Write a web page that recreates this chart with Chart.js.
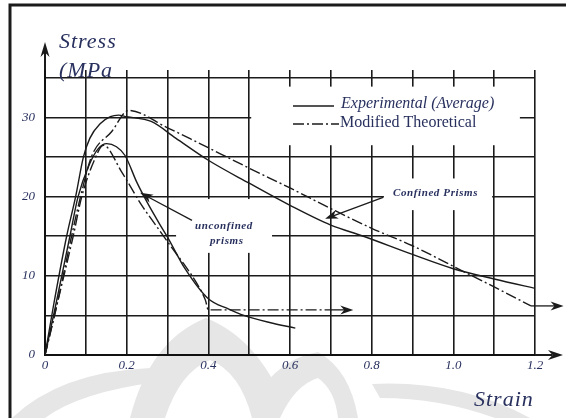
<!DOCTYPE html>
<html>
<head>
<meta charset="utf-8">
<script src="https://cdn.jsdelivr.net/npm/chart.js@4.4.0/dist/chart.umd.min.js"></script>
<style>
  body { margin: 0; background: #fff; }
  canvas { display: block; }
</style>
</head>
<body>
<canvas id="stressChart" width="566" height="418"></canvas>
<script>
  // Confined prisms - experimental (average)
  const confExpStrain = [0, 0.02, 0.053, 0.075, 0.094, 0.11, 0.135, 0.16, 0.18, 0.2, 0.26, 0.32, 0.4, 0.5, 0.6, 0.7, 0.78, 0.9, 1.0, 1.1, 1.21];
  const confExpStress = [0, 6, 15, 20, 25, 27.4, 29.2, 30.1, 30.3, 30.1, 29.5, 27.4, 24.6, 21.7, 18.9, 16.4, 15.0, 12.7, 10.9, 9.6, 8.3];
  // Confined prisms - modified theoretical
  const confThStrain = [0, 0.03, 0.065, 0.087, 0.115, 0.163, 0.205, 0.3, 0.364, 0.5, 0.6, 0.7, 0.8, 0.9, 1.0, 1.1, 1.19];
  const confThStress = [0, 6.5, 15, 20, 25.2, 28.2, 30.9, 28.7, 27.1, 23.6, 21.1, 18.5, 16.0, 13.8, 11.2, 8.6, 6.2];
  // Unconfined prisms - experimental (average)
  const unconfExpStrain = [0, 0.025, 0.061, 0.081, 0.108, 0.131, 0.151, 0.175, 0.196, 0.225, 0.25, 0.28, 0.3, 0.343, 0.4, 0.45, 0.487, 0.55, 0.613];
  const unconfExpStress = [0, 6, 15, 20, 24, 26.1, 26.7, 26.3, 25.2, 21.8, 19.3, 16.6, 14.9, 10.9, 7.1, 5.8, 5.0, 4.1, 3.4];
  // Unconfined prisms - modified theoretical
  const unconfThStrain = [0, 0.03, 0.069, 0.09, 0.12, 0.143, 0.188, 0.237, 0.274, 0.31, 0.34, 0.37, 0.393, 0.4, 0.5, 0.6, 0.7];
  const unconfThStress = [0, 6.5, 15, 20, 24.5, 26.5, 23.1, 18.9, 16.2, 13.6, 11.5, 9.2, 6.9, 5.7, 5.7, 5.7, 5.7];

  const yGridValues = [0, 5, 10, 15, 20, 25, 30, 35];
  const yTickLabels = [0, 10, 20, 30];
  const xTickLabels = [0, 0.2, 0.4, 0.6, 0.8, 1.0, 1.2];

  // annotation arrows (data units)
  const arrowFromStrain = [0.36, 0.828, 0.70, 1.19];
  const arrowFromStress = [17.0, 19.9, 5.7, 6.2];
  const arrowToStrain = [0.233, 0.686, 0.755, 1.27];
  const arrowToStress = [20.5, 17.2, 5.7, 6.2];

  const ink = '#1b1b1b';
  const textColor = '#28305e';
  const dashDot = [11, 3, 2, 3];
  const serif = 'Liberation Serif';

  const toPoints = (xs, ys) => xs.map((x, i) => ({ x: x, y: ys[i] }));

  function arrowHead(ctx, tipX, tipY, angle, len, half) {
    ctx.save();
    ctx.translate(tipX, tipY);
    ctx.rotate(angle);
    ctx.beginPath();
    ctx.moveTo(0, 0);
    ctx.lineTo(-len, half);
    ctx.lineTo(-len * 0.7, 0);
    ctx.lineTo(-len, -half);
    ctx.closePath();
    ctx.fill();
    ctx.restore();
  }

  // faint logo watermark in the lower part of the page
  function watermark(ctx) {
    ctx.save();
    ctx.fillStyle = '#e6e6e6';
    // left sweep
    ctx.beginPath();
    ctx.moveTo(12, 418);
    ctx.quadraticCurveTo(60, 372, 150, 368);
    ctx.lineTo(158, 382);
    ctx.quadraticCurveTo(80, 392, 45, 418);
    ctx.closePath();
    ctx.fill();
    // centre petal
    ctx.beginPath();
    ctx.moveTo(130, 418);
    ctx.quadraticCurveTo(150, 340, 206, 318);
    ctx.quadraticCurveTo(262, 340, 290, 418);
    ctx.closePath();
    ctx.fill();
    // right petal
    ctx.beginPath();
    ctx.moveTo(245, 418);
    ctx.quadraticCurveTo(270, 360, 318, 352);
    ctx.quadraticCurveTo(350, 370, 358, 418);
    ctx.closePath();
    ctx.fill();
    // right sweep
    ctx.beginPath();
    ctx.moveTo(372, 384);
    ctx.quadraticCurveTo(460, 380, 530, 418);
    ctx.lineTo(495, 418);
    ctx.quadraticCurveTo(440, 398, 380, 398);
    ctx.closePath();
    ctx.fill();
    // white cut-outs inside the petals
    ctx.fillStyle = '#fff';
    ctx.beginPath();
    ctx.moveTo(165, 418);
    ctx.quadraticCurveTo(180, 372, 210, 360);
    ctx.quadraticCurveTo(240, 372, 252, 418);
    ctx.closePath();
    ctx.fill();
    ctx.beginPath();
    ctx.moveTo(280, 418);
    ctx.quadraticCurveTo(295, 385, 318, 378);
    ctx.quadraticCurveTo(335, 390, 338, 418);
    ctx.closePath();
    ctx.fill();
    ctx.restore();
  }

  const decor = {
    id: 'decor',
    beforeDraw(chart) {
      watermark(chart.ctx);
    },
    beforeDatasetsDraw(chart) {
      const { ctx, scales: { x, y } } = chart;
      // white boxes behind the legend and labels (cut the grid)
      const boxes = [
        [0.505, 1.163, 33.9, 26.5],
        [0.83, 1.095, 22.3, 18.3],
        [0.321, 0.556, 19.7, 12.9]
      ];
      ctx.save();
      ctx.fillStyle = '#fff';
      boxes.forEach(b => {
        const l = x.getPixelForValue(b[0]), r = x.getPixelForValue(b[1]);
        const t = y.getPixelForValue(b[2]), bt = y.getPixelForValue(b[3]);
        ctx.fillRect(l, t, r - l, bt - t);
      });
      ctx.restore();
    },
    afterDatasetsDraw(chart) {
      const { ctx, chartArea: area, scales: { x, y } } = chart;
      ctx.save();
      ctx.strokeStyle = ink;
      ctx.fillStyle = ink;

      // annotation arrows
      ctx.lineWidth = 1.3;
      arrowFromStrain.forEach((fs, i) => {
        const x0 = x.getPixelForValue(fs), y0 = y.getPixelForValue(arrowFromStress[i]);
        const x1 = x.getPixelForValue(arrowToStrain[i]), y1 = y.getPixelForValue(arrowToStress[i]);
        const ang = Math.atan2(y1 - y0, x1 - x0);
        ctx.beginPath();
        ctx.moveTo(x0, y0);
        ctx.lineTo(x1 - Math.cos(ang) * 8, y1 - Math.sin(ang) * 8);
        ctx.stroke();
        arrowHead(ctx, x1, y1, ang, 13, 4.5);
      });

      // axis arrows
      const ox = x.getPixelForValue(0), oy = y.getPixelForValue(0);
      ctx.lineWidth = 2;
      ctx.beginPath();
      ctx.moveTo(ox, area.top);
      ctx.lineTo(ox, 50);
      ctx.moveTo(area.right, oy);
      ctx.lineTo(552, oy);
      ctx.stroke();
      arrowHead(ctx, ox, 42, -Math.PI / 2, 15, 4.5);
      arrowHead(ctx, 563, oy, 0, 15, 5);

      // outer frame
      ctx.lineWidth = 3;
      ctx.beginPath();
      ctx.moveTo(10, 418);
      ctx.lineTo(10, 5);
      ctx.lineTo(566, 5);
      ctx.stroke();

      // legend
      ctx.lineWidth = 1.4;
      ctx.beginPath();
      ctx.moveTo(293, 106);
      ctx.lineTo(334, 106);
      ctx.stroke();
      ctx.setLineDash(dashDot);
      ctx.beginPath();
      ctx.moveTo(293, 124);
      ctx.lineTo(339, 124);
      ctx.stroke();
      ctx.setLineDash([]);

      ctx.fillStyle = textColor;
      ctx.textBaseline = 'middle';
      ctx.textAlign = 'left';
      ctx.font = 'italic 16px "' + serif + '"';
      ctx.fillText('Experimental (Average)', 341, 104);
      ctx.font = '16px "' + serif + '"';
      ctx.fillText('Modified Theoretical', 340, 123);

      // axis titles
      ctx.textBaseline = 'alphabetic';
      ctx.font = 'italic 22px "' + serif + '"';
      ctx.letterSpacing = '1px';
      ctx.fillText('Stress', 59, 48);
      ctx.fillText('(MPa', 59, 77);
      ctx.fillText('Strain', 474, 406);

      // curve labels
      ctx.font = 'italic bold 11px "' + serif + '"';
      ctx.letterSpacing = '0.6px';
      ctx.textBaseline = 'middle';
      ctx.fillText('Confined Prisms', 393, 193);
      ctx.fillText('unconfined', 195, 226);
      ctx.fillText('prisms', 210, 241);
      ctx.restore();
    }
  };

  const lineStyle = (pts, dashed) => ({
    data: pts,
    showLine: true,
    borderColor: ink,
    borderWidth: 1.4,
    borderDash: dashed ? dashDot : [],
    pointRadius: 0,
    fill: false,
    cubicInterpolationMode: 'monotone'
  });

  const ctx = document.getElementById('stressChart').getContext('2d');
  new Chart(ctx, {
    type: 'scatter',
    data: {
      datasets: [
        Object.assign({ label: 'Experimental (Average) - confined' }, lineStyle(toPoints(confExpStrain, confExpStress), false)),
        Object.assign({ label: 'Modified Theoretical - confined' }, lineStyle(toPoints(confThStrain, confThStress), true)),
        Object.assign({ label: 'Experimental (Average) - unconfined' }, lineStyle(toPoints(unconfExpStrain, unconfExpStress), false)),
        Object.assign({ label: 'Modified Theoretical - unconfined' }, lineStyle(toPoints(unconfThStrain, unconfThStress), true))
      ]
    },
    options: {
      responsive: false,
      animation: false,
      layout: {
        padding: { left: 5, top: 70, right: 31, bottom: 33 }
      },
      plugins: {
        legend: { display: false },
        tooltip: { enabled: false }
      },
      scales: {
        x: {
          type: 'linear',
          min: 0,
          max: 1.2,
          afterFit: s => { s.height = 30; },
          ticks: {
            stepSize: 0.1,
            padding: 3,
            color: textColor,
            font: { family: serif, style: 'italic', size: 13 },
            maxRotation: 0,
            autoSkip: false,
            callback: v => {
              const hit = xTickLabels.find(t => Math.abs(t - v) < 1e-6);
              if (hit === undefined) return '';
              return hit === 0 ? '0' : hit.toFixed(1);
            }
          },
          grid: { color: ink, lineWidth: 1.6, drawTicks: false },
          border: { color: '#111', width: 2 }
        },
        y: {
          min: 0,
          max: 36,
          afterFit: s => { s.width = 40; },
          afterBuildTicks: s => { s.ticks = yGridValues.map(v => ({ value: v })); },
          ticks: {
            padding: 10,
            color: textColor,
            font: { family: serif, style: 'italic', size: 13 },
            callback: v => (yTickLabels.includes(v) ? String(v) : '')
          },
          grid: { color: ink, lineWidth: 1.6, drawTicks: false },
          border: { color: '#111', width: 2 }
        }
      }
    },
    plugins: [decor]
  });
</script>
</body>
</html>
